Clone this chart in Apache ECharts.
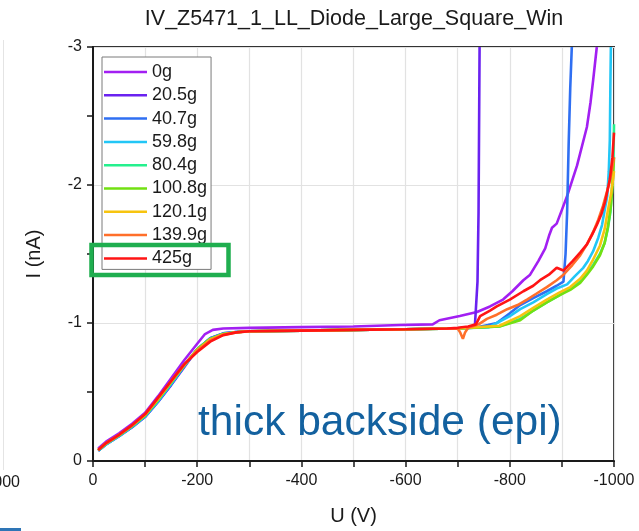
<!DOCTYPE html>
<html>
<head>
<meta charset="utf-8">
<title>IV_Z5471_1_LL_Diode_Large_Square_Win</title>
<script src="https://cdn.jsdelivr.net/npm/echarts@6/dist/echarts.min.js"></script>
<style>
  html, body { margin: 0; padding: 0; background: #fff; }
  #chart { width: 639px; height: 531px; }
</style>
</head>
<body>
<div id="chart"></div>
<script>
// Leakage current I (nA) versus bias U (V), one curve per applied load.
const seriesNames = ['0g', '20.5g', '40.7g', '59.8g', '80.4g', '100.8g', '120.1g', '139.9g', '425g'];
const seriesColors = ['#a21ff2', '#6a22f0', '#2f6ff2', '#22c6f6', '#25f08e', '#72e012', '#f7c40f', '#ff6f2a', '#ff1414'];

const xTicks = [0, -200, -400, -600, -800, -1000];
const yTicks = [0, -1, -2, -3];

// [U (V), I (nA)]
const iv_0g = [[-10,-0.09],[-25,-0.14],[-50,-0.20],[-75,-0.27],[-100,-0.35],[-125,-0.47],[-150,-0.60],[-175,-0.73],[-200,-0.85],[-215,-0.92],[-230,-0.95],[-250,-0.96],[-300,-0.965],[-400,-0.97],[-500,-0.975],[-590,-0.985],[-652,-0.99],[-665,-1.02],[-704,-1.05],[-737,-1.08],[-762,-1.12],[-787,-1.17],[-805,-1.23],[-826,-1.31],[-839,-1.35],[-855,-1.45],[-868,-1.54],[-876,-1.64],[-881,-1.69],[-890,-1.72],[-900,-1.82],[-910,-1.92],[-929,-2.14],[-948,-2.42],[-955,-2.60],[-960,-2.76],[-967,-3.0]];
const iv_20g = [[-10,-0.075],[-25,-0.12],[-50,-0.18],[-75,-0.245],[-100,-0.32],[-125,-0.43],[-150,-0.55],[-175,-0.68],[-200,-0.81],[-225,-0.89],[-250,-0.925],[-275,-0.935],[-300,-0.94],[-400,-0.945],[-500,-0.95],[-600,-0.955],[-700,-0.962],[-725,-0.968],[-733,-0.98],[-738,-1.30],[-740,-1.80],[-742,-3.0]];
const iv_40g = [[-10,-0.075],[-25,-0.12],[-50,-0.18],[-75,-0.245],[-100,-0.32],[-125,-0.43],[-150,-0.555],[-175,-0.685],[-200,-0.81],[-225,-0.89],[-250,-0.925],[-275,-0.935],[-300,-0.94],[-400,-0.945],[-500,-0.95],[-600,-0.955],[-700,-0.96],[-740,-0.97],[-758,-0.985],[-775,-1.0],[-800,-1.07],[-820,-1.13],[-845,-1.18],[-871,-1.23],[-890,-1.27],[-903,-1.30],[-907,-1.50],[-910,-1.80],[-913,-2.30],[-916,-2.70],[-919,-3.0]];
const iv_59g = [[-10,-0.075],[-25,-0.12],[-50,-0.18],[-75,-0.25],[-100,-0.325],[-125,-0.435],[-150,-0.56],[-175,-0.69],[-200,-0.81],[-225,-0.885],[-250,-0.92],[-275,-0.935],[-300,-0.94],[-400,-0.945],[-500,-0.95],[-600,-0.955],[-700,-0.96],[-760,-0.97],[-775,-1.0],[-800,-1.05],[-820,-1.10],[-845,-1.15],[-871,-1.21],[-890,-1.25],[-910,-1.28],[-925,-1.34],[-941,-1.40],[-950,-1.45],[-960,-1.52],[-970,-1.62],[-977,-1.71],[-987,-1.92],[-990,-2.10],[-992,-2.33],[-993,-2.70],[-994,-3.0]];
const iv_80g = [[-10,-0.078],[-25,-0.125],[-50,-0.185],[-75,-0.25],[-100,-0.33],[-125,-0.44],[-150,-0.565],[-175,-0.69],[-200,-0.81],[-225,-0.885],[-250,-0.92],[-275,-0.933],[-300,-0.94],[-400,-0.945],[-500,-0.95],[-600,-0.955],[-700,-0.96],[-780,-0.975],[-820,-1.03],[-845,-1.09],[-871,-1.15],[-895,-1.20],[-916,-1.25],[-935,-1.30],[-948,-1.36],[-960,-1.42],[-973,-1.50],[-982,-1.58],[-988,-1.68],[-993,-1.80],[-996,-1.95],[-999,-2.20],[-1000,-2.44]];
const iv_100g = [[-10,-0.078],[-25,-0.125],[-50,-0.185],[-75,-0.255],[-100,-0.33],[-125,-0.445],[-150,-0.57],[-175,-0.695],[-200,-0.81],[-225,-0.885],[-250,-0.92],[-275,-0.933],[-300,-0.94],[-400,-0.945],[-500,-0.95],[-600,-0.955],[-700,-0.96],[-780,-0.975],[-820,-1.02],[-845,-1.09],[-871,-1.15],[-895,-1.20],[-916,-1.24],[-935,-1.29],[-948,-1.35],[-960,-1.41],[-973,-1.49],[-982,-1.58],[-988,-1.69],[-994,-1.85],[-998,-2.05],[-1000,-2.20]];
const iv_120g = [[-10,-0.08],[-25,-0.128],[-50,-0.188],[-75,-0.257],[-100,-0.335],[-125,-0.45],[-150,-0.575],[-175,-0.695],[-200,-0.805],[-225,-0.88],[-250,-0.918],[-275,-0.933],[-300,-0.94],[-400,-0.945],[-500,-0.95],[-600,-0.955],[-700,-0.96],[-780,-0.98],[-820,-1.05],[-845,-1.11],[-871,-1.17],[-895,-1.22],[-916,-1.26],[-935,-1.32],[-948,-1.38],[-960,-1.46],[-973,-1.56],[-982,-1.68],[-988,-1.81],[-995,-1.95],[-1000,-2.10]];
const iv_139g = [[-10,-0.08],[-25,-0.13],[-50,-0.19],[-75,-0.258],[-100,-0.338],[-125,-0.455],[-150,-0.578],[-175,-0.70],[-200,-0.80],[-225,-0.875],[-250,-0.915],[-275,-0.932],[-300,-0.94],[-400,-0.945],[-500,-0.95],[-600,-0.955],[-700,-0.96],[-705,-0.93],[-710,-0.885],[-714,-0.93],[-720,-0.965],[-740,-0.99],[-756,-1.03],[-775,-1.06],[-795,-1.10],[-815,-1.13],[-833,-1.17],[-850,-1.21],[-871,-1.26],[-890,-1.31],[-903,-1.35],[-920,-1.42],[-935,-1.49],[-948,-1.57],[-960,-1.66],[-970,-1.75],[-979,-1.85],[-990,-2.00],[-996,-2.11],[-1000,-2.20]];
const iv_425g = [[-10,-0.08],[-25,-0.13],[-50,-0.19],[-75,-0.26],[-100,-0.34],[-125,-0.46],[-150,-0.58],[-175,-0.70],[-200,-0.79],[-225,-0.865],[-250,-0.912],[-275,-0.932],[-300,-0.94],[-400,-0.945],[-500,-0.95],[-600,-0.955],[-680,-0.96],[-700,-0.965],[-720,-0.975],[-735,-0.99],[-743,-1.05],[-762,-1.09],[-775,-1.12],[-800,-1.17],[-826,-1.23],[-845,-1.27],[-858,-1.31],[-875,-1.35],[-890,-1.40],[-903,-1.38],[-921,-1.45],[-935,-1.51],[-948,-1.57],[-958,-1.64],[-967,-1.71],[-976,-1.79],[-983,-1.88],[-992,-2.04],[-997,-2.20],[-1000,-2.38]];

const seriesData = [iv_0g, iv_20g, iv_40g, iv_59g, iv_80g, iv_100g, iv_120g, iv_139g, iv_425g];

const FONT = '"Liberation Sans", Arial, sans-serif';
const INK = '#1a1a1a';

const chart = echarts.init(document.getElementById('chart'), null, { renderer: 'canvas' });

chart.setOption({
  animation: false,
  backgroundColor: '#ffffff',
  textStyle: { fontFamily: FONT },
  grid: {
    left: 93, right: 25, top: 47, bottom: 64,
    show: true, borderColor: '#333', borderWidth: 2, backgroundColor: 'transparent'
  },
  xAxis: {
    type: 'value',
    min: xTicks[xTicks.length - 1], max: xTicks[0], interval: 200,
    inverse: true,
    name: 'U (V)', nameLocation: 'middle', nameGap: 45,
    nameTextStyle: { fontSize: 20, color: INK, fontFamily: FONT },
    axisLine: { show: true, onZero: false, lineStyle: { color: INK, width: 2 } },
    axisTick: { show: true, length: 6, lineStyle: { color: INK, width: 1.5 } },
    minorTick: { show: true, splitNumber: 2, length: 6, lineStyle: { color: INK, width: 1.5 } },
    axisLabel: { fontSize: 16, color: INK, margin: 12, fontFamily: FONT,
      formatter: v => String(v) },
    splitLine: { show: true, lineStyle: { color: '#e2e2e2', width: 1.2 } },
    minorSplitLine: { show: true, lineStyle: { color: '#e2e2e2', width: 1.2 } }
  },
  yAxis: {
    type: 'value',
    min: yTicks[yTicks.length - 1], max: yTicks[0], interval: 1,
    inverse: true,
    name: 'I (nA)', nameLocation: 'middle', nameGap: 49, nameRotate: 90,
    nameTextStyle: { fontSize: 20, color: INK, fontFamily: FONT },
    axisLine: { show: true, onZero: false, lineStyle: { color: INK, width: 2 } },
    axisTick: { show: true, length: 6, lineStyle: { color: INK, width: 1.5 } },
    minorTick: { show: true, splitNumber: 2, length: 6, lineStyle: { color: INK, width: 1.5 } },
    axisLabel: { fontSize: 16, color: INK, margin: 11, fontFamily: FONT },
    splitLine: { show: true, lineStyle: { color: '#e2e2e2', width: 1.2 } },
    minorSplitLine: { show: false }
  },
  legend: {
    orient: 'vertical',
    left: 102, top: 57,
    data: seriesNames,
    icon: 'rect',
    itemWidth: 43, itemHeight: 2.5, itemGap: 5.3,
    padding: [6, 4, 2, 2],
    borderColor: '#7a7a7a', borderWidth: 1, backgroundColor: '#ffffff',
    textStyle: { fontSize: 18, lineHeight: 18, color: INK, fontFamily: FONT }
  },
  series: seriesNames.map((name, i) => ({
    name,
    type: 'line',
    data: seriesData[i],
    showSymbol: false,
    clip: true,
    color: seriesColors[i],
    lineStyle: { color: seriesColors[i], width: 2.6 },
    itemStyle: { color: seriesColors[i] },
    z: 2 + i
  })),
  graphic: [
    {
      type: 'text', x: 354, y: 19, z: 100,
      style: { text: 'IV_Z5471_1_LL_Diode_Large_Square_Win', fontSize: 21.5, fontFamily: FONT,
        fill: INK, textAlign: 'center', textVerticalAlign: 'middle' }
    },
    {
      type: 'text', x: 198, y: 423, z: 100,
      style: { text: 'thick backside (epi)', fontSize: 42.5, fontFamily: FONT,
        fill: '#13619f', textAlign: 'left', textVerticalAlign: 'middle' }
    },
    {
      type: 'rect', z: 100,
      shape: { x: 91.5, y: 245, width: 137, height: 30 },
      style: { fill: 'none', stroke: '#1fae4f', lineWidth: 4.5 }
    },
    {
      type: 'text', x: 20, y: 483, z: 100,
      style: { text: '-1000', fontSize: 16, fontFamily: FONT, fill: INK,
        textAlign: 'right', textVerticalAlign: 'middle' }
    },
    {
      type: 'rect', z: 100,
      shape: { x: 0, y: 528, width: 21, height: 3 },
      style: { fill: '#2e75b6' }
    },
    {
      type: 'line', z: 1,
      shape: { x1: 3.5, y1: 40, x2: 3.5, y2: 470 },
      style: { stroke: '#e4e4e4', lineWidth: 1 }
    }
  ]
});
</script>
</body>
</html>
